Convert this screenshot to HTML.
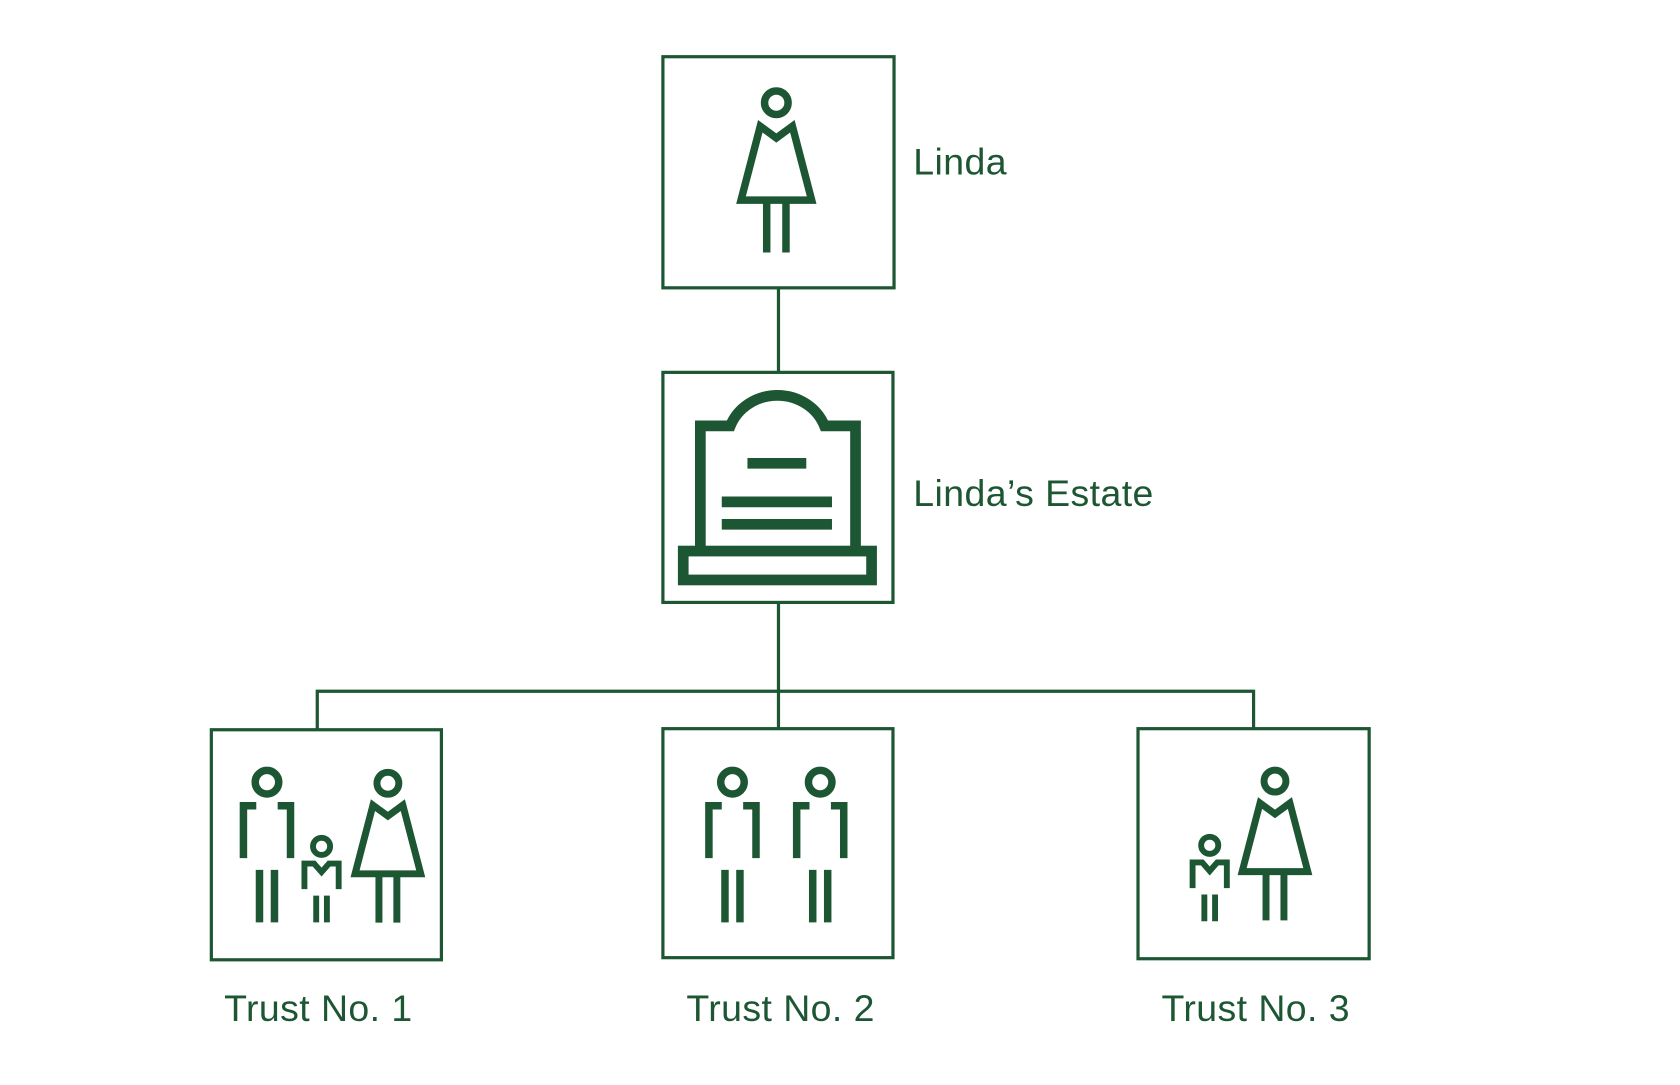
<!DOCTYPE html>
<html><head><meta charset="utf-8"><style>
html,body{margin:0;padding:0;background:#fff;width:1680px;height:1085px;overflow:hidden}
svg{display:block}
text{font-family:"Liberation Sans",sans-serif;fill:#1d5633;font-size:35px;letter-spacing:0.4px}
</style></head><body>
<svg width="1680" height="1085" viewBox="-1.5 -1 1570 1014" preserveAspectRatio="none" xmlns="http://www.w3.org/2000/svg">
<defs>
<g id="woman" fill="none" stroke="#1d5633" stroke-width="7">
<circle cx="0" cy="0" r="11"/>
<path d="M-15,22 L0,33 L15,22 L33,91 L-33,91 Z" stroke-linejoin="miter"/>
<path d="M-9,91 V140 M9,91 V140"/>
</g>
<g id="man" fill="none" stroke="#1d5633" stroke-width="7">
<circle cx="0" cy="0" r="11"/>
<path d="M-22,71 V22 H-10 M10,22 H22 V71"/>
<path d="M-7,82 V131 M7,82 V131"/>
</g>
<g id="child" fill="none" stroke="#1d5633" stroke-width="5.5">
<circle cx="0" cy="0" r="8"/>
<path d="M-16,40 V16 H-7 L0,24 L7,16 H16 V40"/>
<path d="M-5,46 V71 M5,46 V71"/>
</g>
</defs>
<g fill="none" stroke="#1d5633" stroke-width="3">
<rect x="618" y="52" width="216" height="216"/>
<rect x="618" y="347" width="215" height="215"/>
<rect x="196" y="681" width="215" height="215"/>
<rect x="618" y="680" width="215" height="214"/>
<rect x="1062" y="680" width="216" height="215"/>
<path d="M726,268 V347 M726,562 V680 M295,681 V645 H1170 V680"/>
</g>
<g fill="none" stroke="#1d5633" stroke-width="10">
<path d="M653,512 V397 H681 A47,44 0 0 1 769,397 H798 V512"/>
<rect x="637" y="514" width="176" height="27"/>
<path d="M697,432 H752 M673,468 H776 M673,489 H776"/>
</g>
<use href="#woman" x="724" y="95"/>
<use href="#woman" transform="translate(361,731) scale(0.93)"/>
<use href="#man" x="248" y="730"/>
<use href="#child" x="299" y="790"/>
<use href="#man" x="683" y="730"/>
<use href="#man" x="765" y="730"/>
<use href="#child" x="1129" y="789"/>
<use href="#woman" transform="translate(1190,729) scale(0.93)"/>
<text x="852" y="162">Linda</text>
<text x="852" y="472">Linda’s Estate</text>
<text x="296" y="953" text-anchor="middle">Trust No. 1</text>
<text x="728" y="953" text-anchor="middle">Trust No. 2</text>
<text x="1172" y="953" text-anchor="middle">Trust No. 3</text>
</svg>
</body></html>
